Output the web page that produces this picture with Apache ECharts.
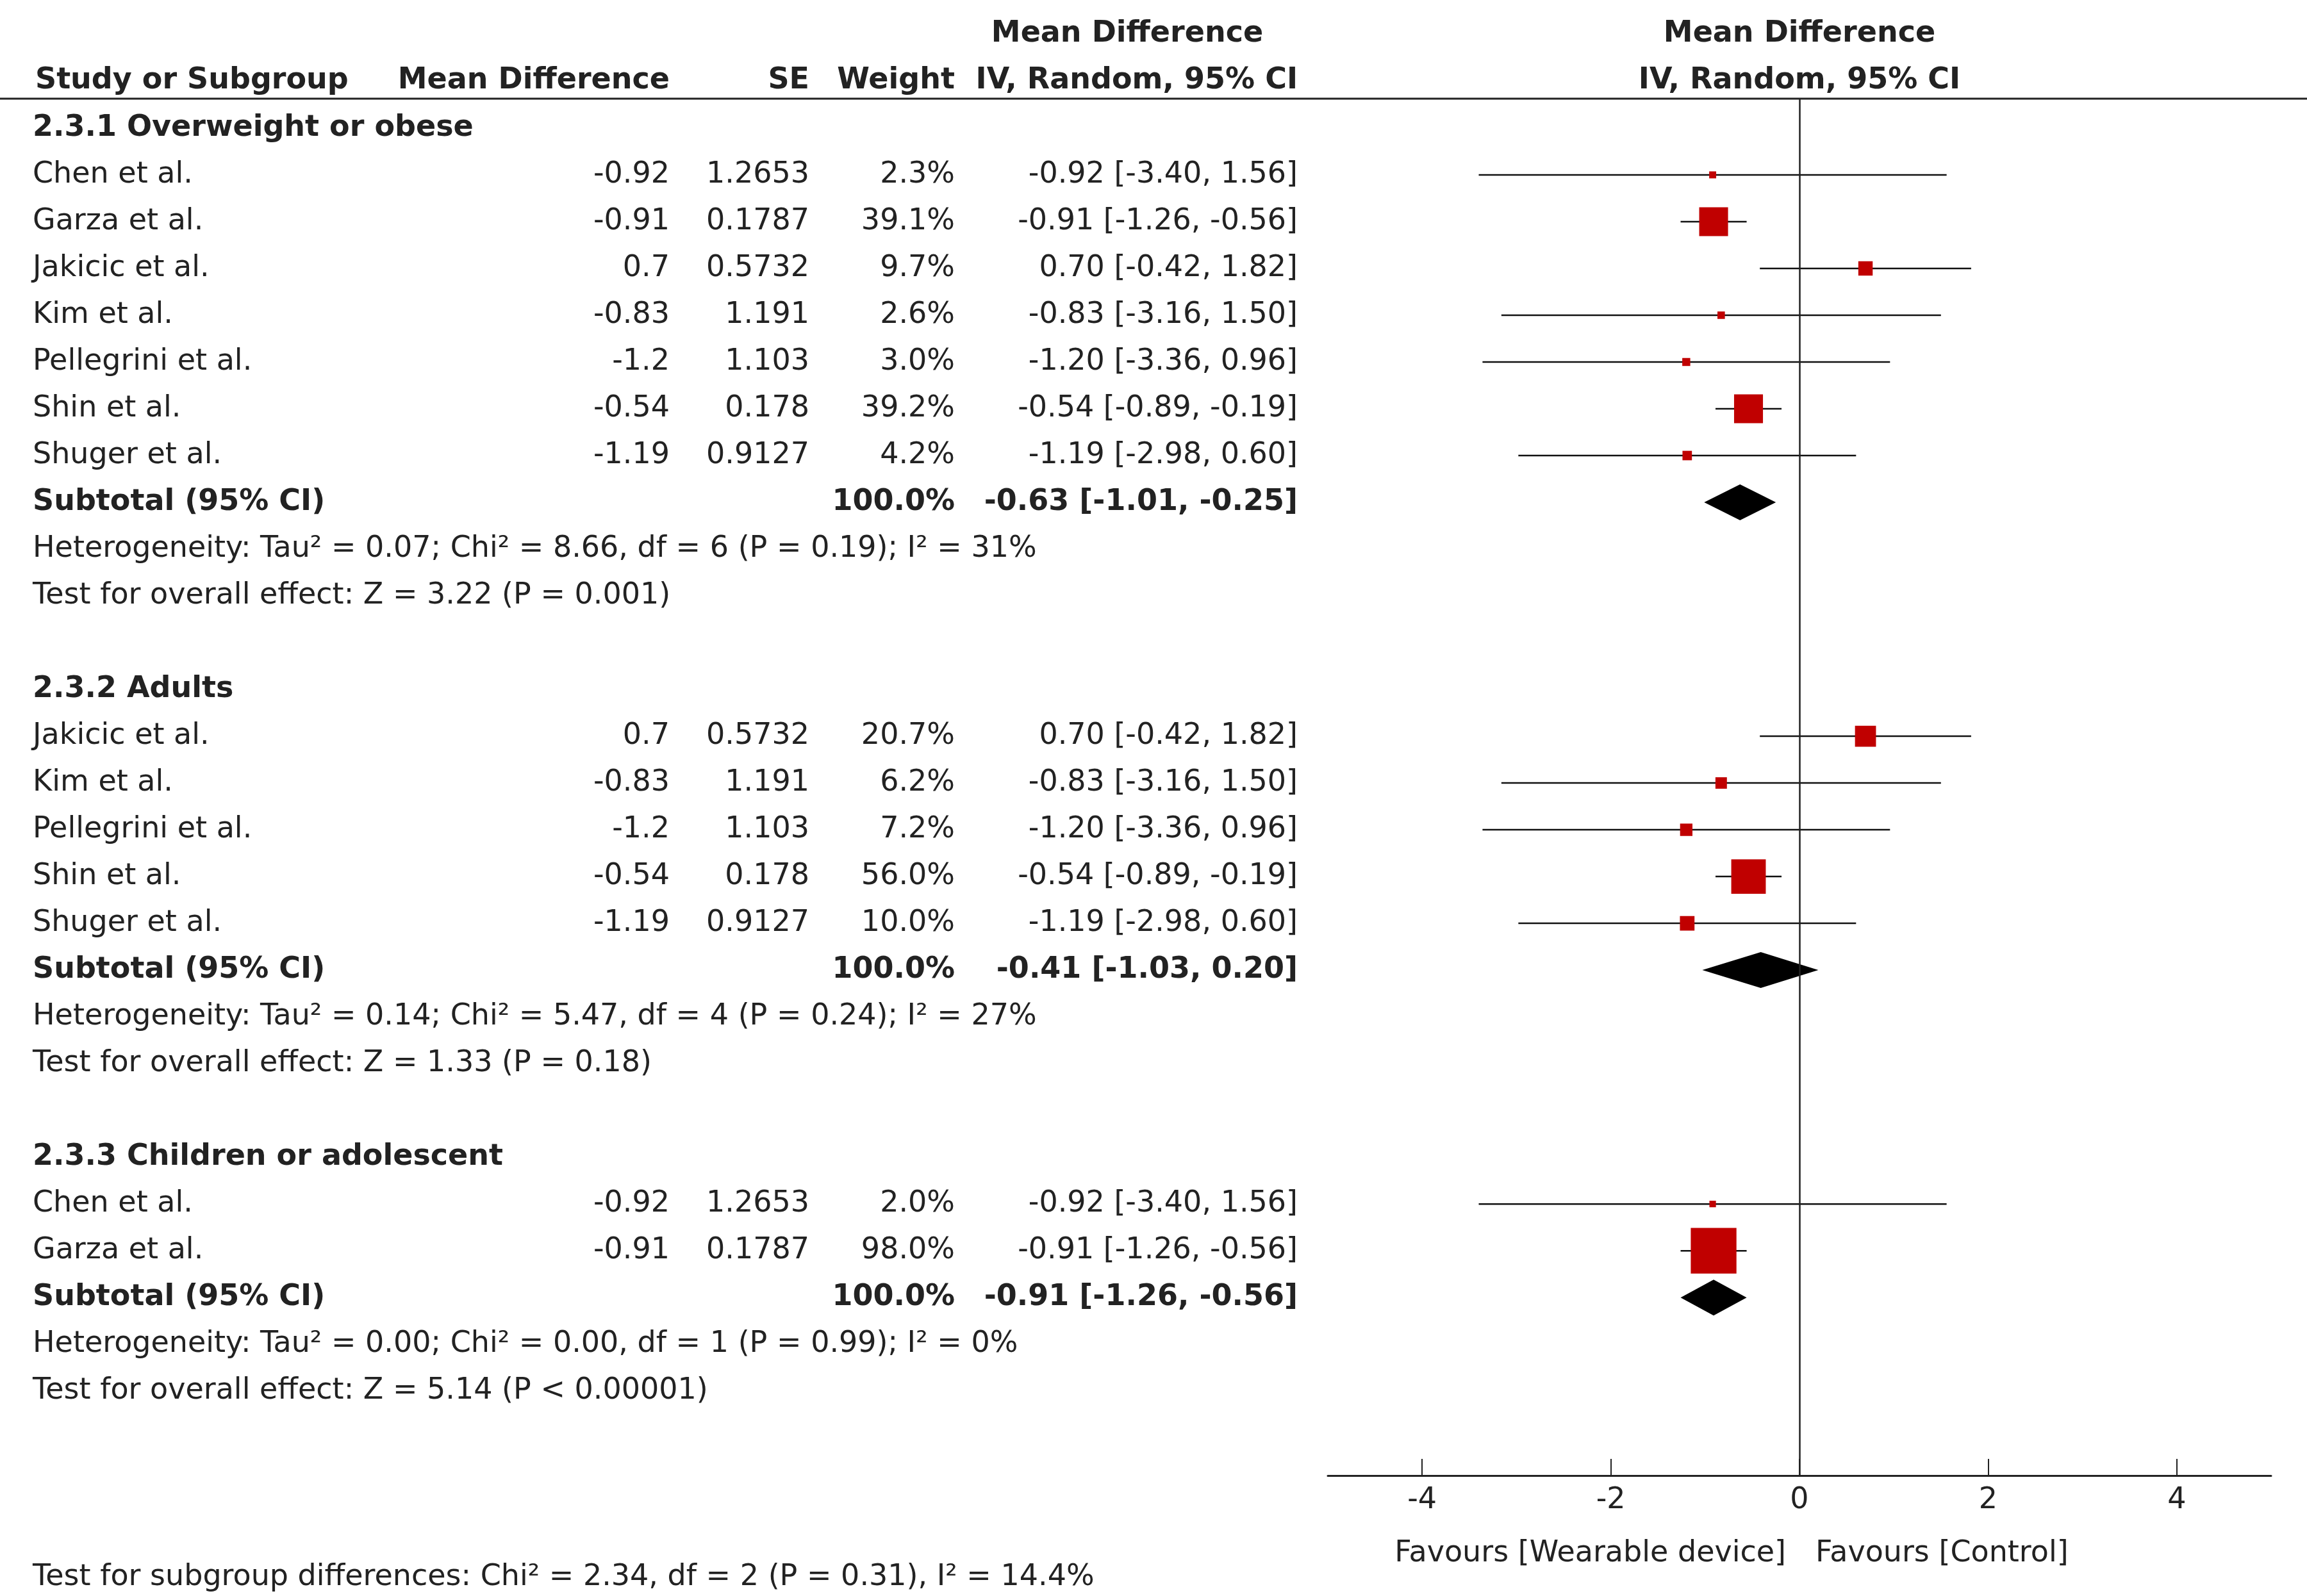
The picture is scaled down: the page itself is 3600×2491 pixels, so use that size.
<!DOCTYPE html>
<html lang="en">
<head>
<meta charset="UTF-8">
<title>Forest plot</title>
<script src="https://cdn.jsdelivr.net/npm/echarts@6/dist/echarts.min.js"></script>
<style>
  html, body { margin: 0; padding: 0; background: #fff; }
  #main { width: 3600px; height: 2491px; }
</style>
</head>
<body>
<div id="main"></div>
<script type="text/javascript">
// group titles
var groupTitles = ['2.3.1 Overweight or obese', '2.3.2 Adults', '2.3.3 Children or adolescent'];

// 2.3.1
var names1 = ['Chen et al.', 'Garza et al.', 'Jakicic et al.', 'Kim et al.', 'Pellegrini et al.', 'Shin et al.', 'Shuger et al.'];
var md1 = [-0.92, -0.91, 0.7, -0.83, -1.2, -0.54, -1.19];
var se1 = ['1.2653', '0.1787', '0.5732', '1.191', '1.103', '0.178', '0.9127'];
var w1 = [2.3, 39.1, 9.7, 2.6, 3.0, 39.2, 4.2];
var lo1 = [-3.40, -1.26, -0.42, -3.16, -3.36, -0.89, -2.98];
var hi1 = [1.56, -0.56, 1.82, 1.50, 0.96, -0.19, 0.60];

// 2.3.2
var names2 = ['Jakicic et al.', 'Kim et al.', 'Pellegrini et al.', 'Shin et al.', 'Shuger et al.'];
var md2 = [0.7, -0.83, -1.2, -0.54, -1.19];
var se2 = ['0.5732', '1.191', '1.103', '0.178', '0.9127'];
var w2 = [20.7, 6.2, 7.2, 56.0, 10.0];
var lo2 = [-0.42, -3.16, -3.36, -0.89, -2.98];
var hi2 = [1.82, 1.50, 0.96, -0.19, 0.60];

// 2.3.3
var names3 = ['Chen et al.', 'Garza et al.'];
var md3 = [-0.92, -0.91];
var se3 = ['1.2653', '0.1787'];
var w3 = [2.0, 98.0];
var lo3 = [-3.40, -1.26];
var hi3 = [1.56, -0.56];

// subtotals
var subMd = [-0.63, -0.41, -0.91];
var subLo = [-1.01, -1.03, -1.26];
var subHi = [-0.25, 0.20, -0.56];

var hetText = [
  'Heterogeneity: Tau\u00b2 = 0.07; Chi\u00b2 = 8.66, df = 6 (P = 0.19); I\u00b2 = 31%',
  'Heterogeneity: Tau\u00b2 = 0.14; Chi\u00b2 = 5.47, df = 4 (P = 0.24); I\u00b2 = 27%',
  'Heterogeneity: Tau\u00b2 = 0.00; Chi\u00b2 = 0.00, df = 1 (P = 0.99); I\u00b2 = 0%'
];
var testText = [
  'Test for overall effect: Z = 3.22 (P = 0.001)',
  'Test for overall effect: Z = 1.33 (P = 0.18)',
  'Test for overall effect: Z = 5.14 (P < 0.00001)'
];
var subgroupText = 'Test for subgroup differences: Chi\u00b2 = 2.34, df = 2 (P = 0.31), I\u00b2 = 14.4%';
var xTicks = [-4, -2, 0, 2, 4];

var groups = [
  {names: names1, md: md1, se: se1, w: w1, lo: lo1, hi: hi1},
  {names: names2, md: md2, se: se2, w: w2, lo: lo2, hi: hi2},
  {names: names3, md: md3, se: se3, w: w3, lo: lo3, hi: hi3}
];

// layout
var FONT = '"DejaVu Sans", "Liberation Sans", sans-serif';
var FS = 46;
var TXT = '#222';
var ROW0 = 200, ROWH = 73;
var colStudy = 51, colMd = 1045, colSe = 1263, colW = 1490, colCi = 2025;
function rowY(i) { return ROW0 + ROWH * i; }
function f2(v) { return v.toFixed(2); }

var texts = [];
function txt(x, y, s, align, bold) {
  texts.push({
    type: 'text', x: x, y: y,
    style: {text: s, fill: TXT, font: (bold ? 'bold ' : '') + FS + 'px ' + FONT,
            textAlign: align || 'left', textVerticalAlign: 'middle'}
  });
}

var points = [], ciLines = [], diamonds = [];
var idx = 0;
groups.forEach(function (g, gi) {
  txt(colStudy, rowY(idx), groupTitles[gi], 'left', true);
  idx++;
  for (var i = 0; i < g.names.length; i++) {
    txt(colStudy, rowY(idx), g.names[i]);
    txt(colMd, rowY(idx), String(g.md[i]), 'right');
    txt(colSe, rowY(idx), g.se[i], 'right');
    txt(colW, rowY(idx), g.w[i].toFixed(1) + '%', 'right');
    txt(colCi, rowY(idx), f2(g.md[i]) + ' [' + f2(g.lo[i]) + ', ' + f2(g.hi[i]) + ']', 'right');
    points.push({value: [g.md[i], idx], symbolSize: 7.2 * Math.sqrt(g.w[i])});
    ciLines.push([g.lo[i], g.hi[i], idx]);
    idx++;
  }
  txt(colStudy, rowY(idx), 'Subtotal (95% CI)', 'left', true);
  txt(colW, rowY(idx), '100.0%', 'right', true);
  txt(colCi, rowY(idx), f2(subMd[gi]) + ' [' + f2(subLo[gi]) + ', ' + f2(subHi[gi]) + ']', 'right', true);
  diamonds.push([subLo[gi], subMd[gi], subHi[gi], idx]);
  idx++;
  txt(colStudy, rowY(idx), hetText[gi]); idx++;
  txt(colStudy, rowY(idx), testText[gi]); idx++;
  idx++;
});

// headers
txt(1759, 53, 'Mean Difference', 'center', true);
txt(2808, 53, 'Mean Difference', 'center', true);
txt(55, 126, 'Study or Subgroup', 'left', true);
txt(colMd, 126, 'Mean Difference', 'right', true);
txt(colSe, 126, 'SE', 'right', true);
txt(colW, 126, 'Weight', 'right', true);
txt(colCi, 126, 'IV, Random, 95% CI', 'right', true);
txt(2808, 126, 'IV, Random, 95% CI', 'center', true);
txt(2787, 2425, 'Favours [Wearable device]', 'right');
txt(2833, 2425, 'Favours [Control]', 'left');
txt(colStudy, 2462, subgroupText);

texts.push({type: 'line', shape: {x1: 0, y1: 154, x2: 3600, y2: 154},
            style: {stroke: '#222', lineWidth: 3}});

var chart = echarts.init(document.getElementById('main'));
chart.setOption({
  animation: false,
  backgroundColor: '#fff',
  grid: {left: 2072, right: 56, top: 154, bottom: 2491 - 2303},
  xAxis: {
    type: 'value', min: -5, max: 5,
    splitLine: {show: false},
    axisLine: {onZero: false, lineStyle: {color: '#222', width: 3}},
    axisTick: {show: true, inside: true, length: 26, customValues: xTicks, lineStyle: {color: '#222', width: 2}},
    axisLabel: {customValues: xTicks, color: TXT, fontSize: FS, fontFamily: FONT, margin: 16}
  },
  yAxis: {
    type: 'value', inverse: true, min: -0.629, max: 28.805, show: false
  },
  graphic: texts,
  series: [
    {
      type: 'custom',
      data: ciLines,
      renderItem: function (params, api) {
        var a = api.coord([api.value(0), api.value(2)]);
        var b = api.coord([api.value(1), api.value(2)]);
        return {type: 'line', shape: {x1: a[0], y1: a[1], x2: b[0], y2: b[1]},
                style: {stroke: '#111', lineWidth: 2.5}};
      },
      z: 2
    },
    {
      type: 'scatter',
      symbol: 'rect',
      data: points,
      itemStyle: {color: '#c00000', opacity: 1},
      z: 3
    },
    {
      type: 'custom',
      data: diamonds,
      renderItem: function (params, api) {
        var l = api.coord([api.value(0), api.value(3)]);
        var m = api.coord([api.value(1), api.value(3)]);
        var r = api.coord([api.value(2), api.value(3)]);
        var h = 28;
        return {type: 'polygon',
                shape: {points: [[l[0], l[1]], [m[0], m[1] - h], [r[0], r[1]], [m[0], m[1] + h]]},
                style: {fill: '#000'}};
      },
      z: 3
    },
    {
      type: 'line', data: [],
      markLine: {
        silent: true, symbol: 'none', label: {show: false},
        lineStyle: {color: '#222', width: 2.5, type: 'solid'},
        data: [{xAxis: 0}]
      }
    }
  ]
});
</script>
</body>
</html>
